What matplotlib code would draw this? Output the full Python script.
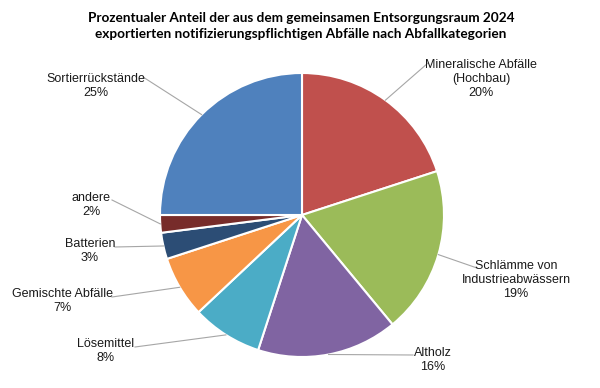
import matplotlib.pyplot as plt
from matplotlib import font_manager
import numpy as np

kategorien = ['Mineralische Abfälle\n(Hochbau)', 'Schlämme von\nIndustrieabwässern', 'Altholz',
              'Lösemittel', 'Gemischte Abfälle', 'Batterien', 'andere', 'Sortierrückstände']
anteile = [20, 19, 16, 8, 7, 3, 2, 25]
farben = ['#C0504D', '#9BBB59', '#8064A2', '#4BACC6', '#F79646', '#2C4D75', '#772C2A', '#4F81BD']

# Layout in Pixel (Figur 600x388), Kreismitte und Radius
cx, cy, r = 302, 215, 142
# Textmitte und Ende der Führungslinie je Kategorie (Pixel)
text_pos = [(481, 79), (516, 280), (433, 360), (106, 351), (62, 301), (90, 251), (91, 205), (96, 86)]
linie_end = [(428, 63), (477, 268), (413, 355), (135, 347), (112, 297), (115, 247), (112, 200), (143, 77)]


def px(p):
    return ((p[0] - cx) / r, (cy - p[1]) / r)


namen = {f.name for f in font_manager.fontManager.ttflist}
if 'Liberation Sans Narrow' in namen:
    label_font, label_size = ['Liberation Sans Narrow', 'DejaVu Sans'], 10
else:
    label_font, label_size = ['Liberation Sans', 'DejaVu Sans'], 9

fig = plt.figure(figsize=(6, 3.88), dpi=100)
ax = fig.add_axes([0, 0, 1, 1])

wedges, _ = ax.pie(anteile, colors=farben, startangle=90, counterclock=False, radius=1,
                   wedgeprops=dict(edgecolor='white', linewidth=1.5))
ax.set_xlim(-cx / r, (600 - cx) / r)
ax.set_ylim(-(388 - cy) / r, cy / r)
ax.set_aspect('equal')
ax.axis('off')

for w, name, wert, tp, le in zip(wedges, kategorien, anteile, text_pos, linie_end):
    ang = np.deg2rad((w.theta1 + w.theta2) / 2)
    x0, y0 = np.cos(ang), np.sin(ang)
    x1, y1 = px(le)
    ax.plot([x0, x1], [y0, y1], color='#A6A6A6', lw=0.8)
    tx, ty = px(tp)
    ax.text(tx, ty, f'{name}\n{wert}%', ha='center', va='center', fontsize=label_size,
            family=label_font, linespacing=1.2, color='#1a1a1a')

fig.text(301 / 600, 1 - 26 / 388,
         'Prozentualer Anteil der aus dem gemeinsamen Entsorgungsraum 2024\n'
         'exportierten notifizierungspflichtigen Abfälle nach Abfallkategorien',
         ha='center', va='center', fontsize=9.8, fontweight='bold', family=['Lato', 'DejaVu Sans'],
         linespacing=1.45)

fig.savefig('out.png', dpi=100)
